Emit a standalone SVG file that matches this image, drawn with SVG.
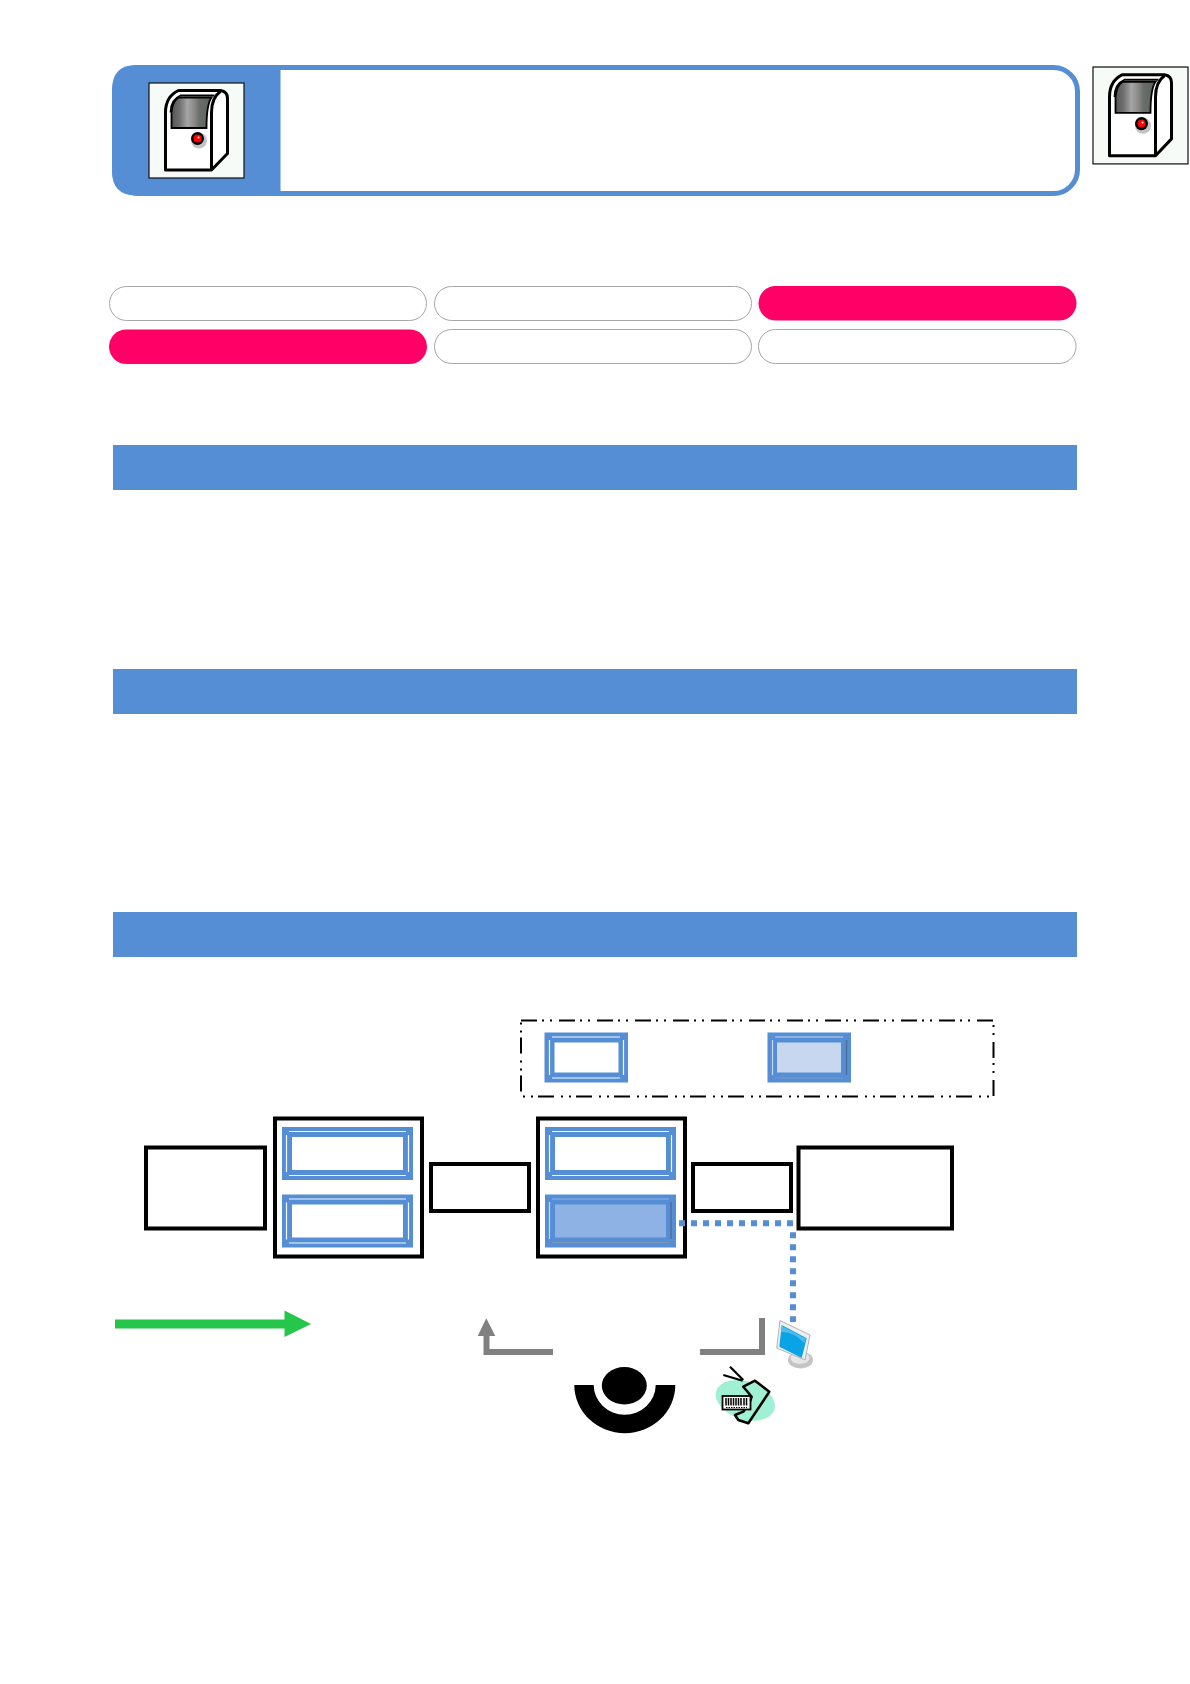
<svg xmlns="http://www.w3.org/2000/svg" width="1190" height="1684" viewBox="0 0 1190 1684">
<style>
.blk{fill:#fff;stroke:#000;stroke-width:4}
.pill{fill:#fff;stroke:#a6a6a6;stroke-width:1}
.pink{fill:#ff0066}
.bar{fill:#558ed5}
.fr{fill:#558ed5}
.w{stroke:#f4f8fd;stroke-width:1.2;fill:none}
.l2{stroke:#c6d7ef;stroke-width:1.2;fill:none}
.d{stroke:#4f6d99;stroke-width:1.4;fill:none}
.d2{stroke:#7f95b8;stroke-width:1.2;fill:none}
.gray{fill:none;stroke:#808080;stroke-width:6}
</style>
<defs>
<linearGradient id="scr" x1="0" x2="1" y1="0" y2="0">
<stop offset="0" stop-color="#555"/><stop offset=".2" stop-color="#6f6f6f"/><stop offset=".4" stop-color="#a6a6a6"/><stop offset=".55" stop-color="#8c8c8c"/><stop offset=".7" stop-color="#6a6e6a"/><stop offset="1" stop-color="#5c615c"/>
</linearGradient>
<g id="dev">
<rect x=".5" y=".5" width="95" height="95" fill="#f6fbf8" stroke="#111" stroke-width="1.200"/>
<path d="M17,87.500V30Q17,14 30,8H72Q79,9 79,16V71L63,87.500Z" fill="#fff" stroke="#000" stroke-width="3" stroke-linejoin="round"/>
<path d="M63,87.500V30Q63,15 72,9" fill="none" stroke="#000" stroke-width="3"/>
<path d="M22,30Q22,17 32,13H66" fill="none" stroke="#000" stroke-width="1.800"/>
<path d="M23,45.500V30Q24,19 30,15H63Q58,22 58,45.500Z" fill="url(#scr)" stroke="#000" stroke-width="1.800"/>
<circle cx="50.500" cy="58" r="8" fill="#c4c4c4"/>
<circle cx="49" cy="56" r="6.500" fill="#000"/>
<circle cx="49" cy="56" r="4" fill="#f00"/>
<circle cx="50" cy="55" r="1.100" fill="#fdd"/>
</g>
<g id="plain">
<rect width="131" height="53" class="fr"/>
<path class="w" d="M7,4.500H124M4.500,8V45M126.500,8V45M7,48.500H124"/>
<rect x="10" y="10" width="111" height="33" fill="#fff"/>
</g>
</defs>

<g id="header">
<rect x="114.500" y="67.500" width="963" height="126" rx="24" fill="#fff" stroke="#558ed5" stroke-width="5"/>
<path d="M280.500,65H136Q112,65 112,90V171Q112,195.500 136,195.500H280.500Z" fill="#558ed5"/>
<use href="#dev" x="148.500" y="82.500"/>
</g>
<g id="icon-right"><use href="#dev" transform="translate(1092.500 66.500) scale(1 1.02)"/></g>

<g id="pills">
<rect class="pill" x="109.500" y="286.500" width="317" height="34" rx="17"/>
<rect class="pill" x="434.500" y="286.500" width="317" height="34" rx="17"/>
<rect class="pink" x="758.500" y="286" width="318" height="34.500" rx="17.250"/>
<rect class="pink" x="109" y="329.500" width="318" height="34.500" rx="17.250"/>
<rect class="pill" x="434.500" y="329.500" width="317" height="34" rx="17"/>
<rect class="pill" x="758.500" y="329.500" width="317.500" height="34" rx="17"/>
</g>

<g id="bars">
<rect class="bar" x="113" y="445" width="964" height="45"/>
<rect class="bar" x="113" y="669" width="964" height="45"/>
<rect class="bar" x="113" y="912" width="964" height="45"/>
</g>

<g id="legend">
<rect x="521" y="1020.500" width="472.500" height="76" fill="none" stroke="#000" stroke-width="2" stroke-dasharray="16 5 2 6 2 7"/>
<g id="legend-a">
<rect x="544.500" y="1032.500" width="83.500" height="50" class="fr"/>
<path class="w" d="M552,1037H620M549.500,1040V1075M623.500,1040V1075M552,1078H620"/>
<rect x="554.500" y="1042.500" width="64" height="30" fill="#fff"/>
</g>
<g id="legend-b">
<rect x="767.500" y="1032.500" width="83.500" height="50" class="fr"/>
<path class="l2" d="M775,1037H843M772.500,1040V1075"/>
<path class="d2" d="M775,1078H843"/>
<path class="d" d="M846.500,1040V1075"/>
<rect x="777" y="1042.500" width="64" height="30" fill="#c6d7ef"/>
</g>
</g>

<g id="box-1"><rect class="blk" x="146" y="1147.500" width="119" height="81"/></g>
<g id="box-2">
<rect class="blk" x="275" y="1118.500" width="147" height="138"/>
<use href="#plain" x="282" y="1127"/>
<use href="#plain" x="282" y="1194.500"/>
</g>
<g id="box-3"><rect class="blk" x="431" y="1164" width="98" height="47"/></g>
<g id="box-4">
<rect class="blk" x="538" y="1118.500" width="147" height="138"/>
<use href="#plain" x="545" y="1127"/>
<g id="frame-active">
<rect x="545" y="1194.500" width="131" height="53" class="fr"/>
<path d="M552,1199H669" fill="none" stroke="#8fb3e3" stroke-width="1.200"/>
<path class="l2" d="M549.500,1202V1239"/>
<path class="d" d="M671,1202V1239"/>
<path class="d2" d="M552,1242.500H669"/>
<rect x="555" y="1204.500" width="111" height="33" fill="#8eb2e3"/>
</g>
</g>
<g id="box-5"><rect class="blk" x="693" y="1164" width="98" height="47"/></g>
<g id="box-6"><rect class="blk" x="798.500" y="1147.500" width="153.500" height="81"/></g>

<g id="connectors">
<path d="M679,1223.300H796" fill="none" stroke="#558ed5" stroke-width="6" stroke-dasharray="6 6"/>
<path d="M793,1232.300V1322" fill="none" stroke="#558ed5" stroke-width="6" stroke-dasharray="6 6"/>
<path d="M115,1324H285" fill="none" stroke="#26c64b" stroke-width="9"/>
<path d="M284.500,1310.500L311,1324L284.500,1337Z" fill="#26c64b"/>
<path class="gray" d="M553,1352H486.500V1334"/>
<path d="M486.300,1318.300L495.300,1336H477.700Z" fill="#808080"/>
<path class="gray" d="M700,1352H762V1318"/>
</g>

<g id="person">
<ellipse cx="624.300" cy="1385.700" rx="22.500" ry="18.700" fill="#000"/>
<path d="M574.300,1385H593.700A31,29.700 0 0 0 655.700,1385H675.300A50.500,48.300 0 0 1 574.300,1385Z" fill="#000"/>
</g>

<g id="monitor">
<ellipse cx="800.500" cy="1360" rx="12.500" ry="8.500" fill="#c4c4c4"/>
<ellipse cx="800" cy="1358" rx="9.500" ry="6" fill="#e6e6e6"/>
<path d="M780,1320.500L810,1335L805,1360L776.700,1348Z" fill="#eeeeee" stroke="#b4b4b4" stroke-width="1"/>
<path d="M781.700,1325L806.700,1338.300L801.700,1358L779.300,1346.700Z" fill="#0aa3e6"/>
<path d="M782,1326L805.500,1338.500L804.500,1343Q793,1331 781,1332Z" fill="#4fbdec"/>
</g>

<g id="scanner">
<ellipse cx="745.300" cy="1400.300" rx="30.500" ry="19" transform="rotate(18 745.300 1400.300)" fill="#a0f0d4"/>
<path d="M743.300,1386.700L755,1380.700L769.300,1391.700L761.700,1403.300L748.300,1423.300L738.300,1420L735,1415L743.300,1411.700L750,1401.700L751.700,1396.700Z" fill="#a0f0d4" stroke="#000" stroke-width="2.500" stroke-linejoin="round"/>
<path d="M730,1366.700L743.300,1380M723.300,1375L742.700,1380.700" fill="none" stroke="#000" stroke-width="2.200"/>
<rect x="722.500" y="1396" width="28" height="13.500" fill="#fff" stroke="#000" stroke-width="1.800"/>
<path d="M726,1398V1405.500M728.500,1398V1405.500M731,1398V1405.500M733.500,1398V1405.500M736,1398V1405.500M738.500,1398V1405.500M741,1398V1405.500M744,1398V1405.500M746.500,1398V1405.500" stroke="#000" stroke-width="1.500"/>
<path d="M726,1407.500H747" stroke="#000" stroke-width="1" stroke-dasharray="1.500 1"/>
</g>
</svg>
